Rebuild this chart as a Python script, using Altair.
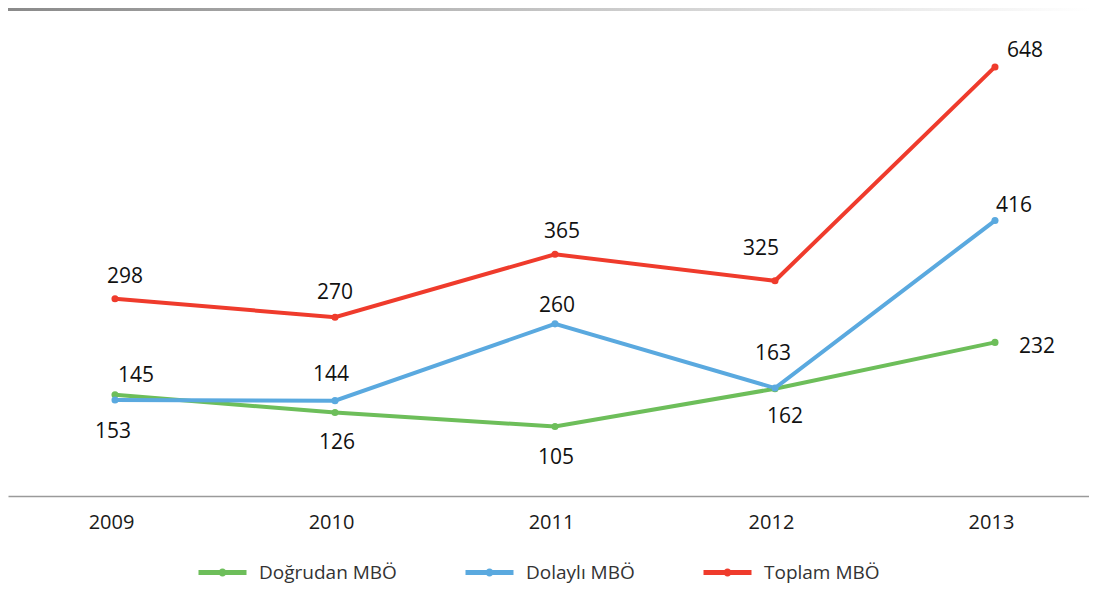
import altair as alt
import pandas as pd

years = [2009, 2010, 2011, 2012, 2013]
series_names = ["Doğrudan MBÖ", "Dolaylı MBÖ", "Toplam MBÖ"]
dogrudan = [153, 126, 105, 162, 232]
dolayli = [145, 144, 260, 163, 416]
toplam = [298, 270, 365, 325, 648]
colors = ["#6dbe5a", "#5aa9df", "#ef3b2c"]

# label offsets (style only): per series, per year (dx, dy)
label_offsets = {
    "Doğrudan MBÖ": [(-2, 37), (2, 30), (1, 32), (10, 28), (42, 5)],
    "Dolaylı MBÖ": [(21, -24), (-4, -26), (2, -18), (-2, -34), (19, -15)],
    "Toplam MBÖ": [(10, -22), (0, -24), (7, -22), (-14, -32), (30, -16)],
}

rows = []
for name, vals in zip(series_names, [dogrudan, dolayli, toplam]):
    for y, v in zip(years, vals):
        rows.append({"Yıl": y, "Seri": name, "Değer": v})
df = pd.DataFrame(rows)

FONT = "Open Sans"
W, H = 1081, 488
x_scale = alt.Scale(domain=[2008.5136, 2013.4273], nice=False, zero=False)
y_scale = alt.Scale(domain=[0, 737], nice=False)
color_scale = alt.Scale(domain=series_names, range=colors)

legend_path = ("M-4,0H4M0.25,0A0.25,0.25,0,1,1,-0.25,0"
               "A0.25,0.25,0,1,1,0.25,0Z")

base = alt.Chart(df)

lines = base.mark_line(strokeWidth=4).encode(
    x=alt.X("Yıl:Q", scale=x_scale,
            axis=alt.Axis(values=years, format="d", title=None, grid=False,
                          ticks=False, labelFont=FONT, labelFontSize=20,
                          labelColor="#1a1a1a", labelPadding=16,
                          labelOffset=-4,
                          domainColor="#9a9a9a", domainWidth=1.5)),
    y=alt.Y("Değer:Q", scale=y_scale, axis=None),
    color=alt.Color("Seri:N", scale=color_scale, sort=series_names,
                    legend=alt.Legend(title=None, orient="none", legendX=205,
                                      legendY=555, direction="horizontal",
                                      symbolType=legend_path, symbolSize=144,
                                      symbolStrokeWidth=5, labelFont=FONT,
                                      labelFontSize=19, labelColor="#333333",
                                      labelOffset=27, columnPadding=58)),
)

points = base.mark_circle(size=50, opacity=1).encode(
    x=alt.X("Yıl:Q", scale=x_scale),
    y=alt.Y("Değer:Q", scale=y_scale),
    color=alt.Color("Seri:N", scale=color_scale, legend=None),
)

label_layers = []
for name in series_names:
    for yr, (dx, dy) in zip(years, label_offsets[name]):
        label_layers.append(
            base.transform_filter(
                (alt.datum.Seri == name) & (alt.datum["Yıl"] == yr)
            ).mark_text(font=FONT, fontSize=21, color="#111111", dx=dx, dy=dy,
                        align="center", baseline="middle").encode(
                x=alt.X("Yıl:Q", scale=x_scale),
                y=alt.Y("Değer:Q", scale=y_scale),
                text="Değer:Q",
            )
        )

top_df = pd.DataFrame({"a": [0]})
top_rule = alt.Chart(top_df).mark_rect(
    fill=alt.Gradient(gradient="linear",
                      stops=[alt.GradientStop(color="#8a8a8a", offset=0),
                             alt.GradientStop(color="#ffffff", offset=1)],
                      x1=0, x2=1, y1=0, y2=0),
).encode(x=alt.value(0), x2=alt.value(W), y=alt.value(0), y2=alt.value(3))

chart = alt.layer(top_rule, lines, points, *label_layers).properties(
    width=W, height=H, padding=0
).configure_view(stroke=None)

chart.save("out.html", embed_options={"renderer": "svg", "actions": False})
